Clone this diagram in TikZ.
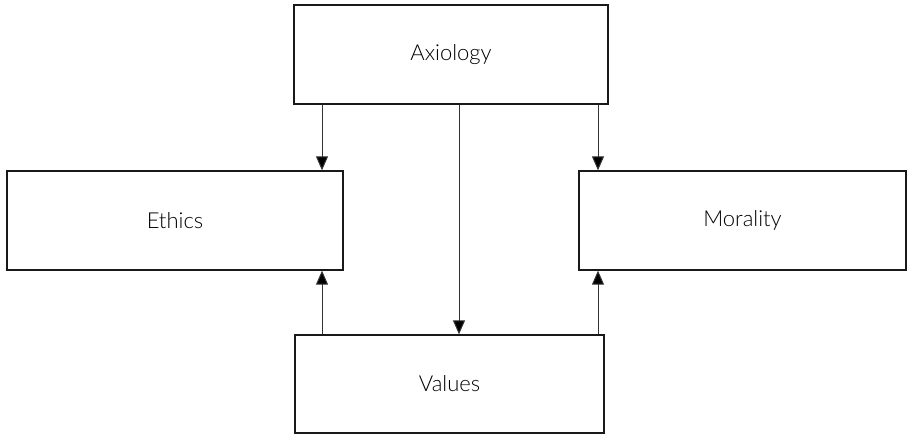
\documentclass[tikz,border=0pt]{standalone}
\usepackage{fontspec}
\setmainfont{Lato}[UprightFont={* Light}]
\usetikzlibrary{arrows.meta}
\begin{document}
\begin{tikzpicture}[x=1pt,y=-1pt,
  box/.style={draw=black!90, line width=1.3pt, inner sep=0pt, font=\fontsize{22}{26}\selectfont, text=black},
  conn/.style={draw=black!80, line width=1pt, -{Triangle[length=14pt,width=12pt,fill=black]}}]
\useasboundingbox (0,0) rectangle (913,435);
\node[box, minimum width=314pt, minimum height=99pt] (ax) at (451,54.5) {Axiology};
\node[box, minimum width=336pt, minimum height=99pt] (et) at (175,220.5) {Ethics};
\node[box, minimum width=327pt, minimum height=99pt] (mo) at (742.5,220.5) {Morality};
\node[box, minimum width=309pt, minimum height=98pt] (va) at (449.5,384) {Values};
\draw[conn] (ax.south -| 322,0) -- (et.north -| 322,0);
\draw[conn] (ax.south -| 598,0) -- (mo.north -| 598,0);
\draw[conn] (ax.south -| 459,0) -- (va.north -| 459,0);
\draw[conn] (va.north -| 322,0) -- (et.south -| 322,0);
\draw[conn] (va.north -| 598,0) -- (mo.south -| 598,0);
\end{tikzpicture}
\end{document}
